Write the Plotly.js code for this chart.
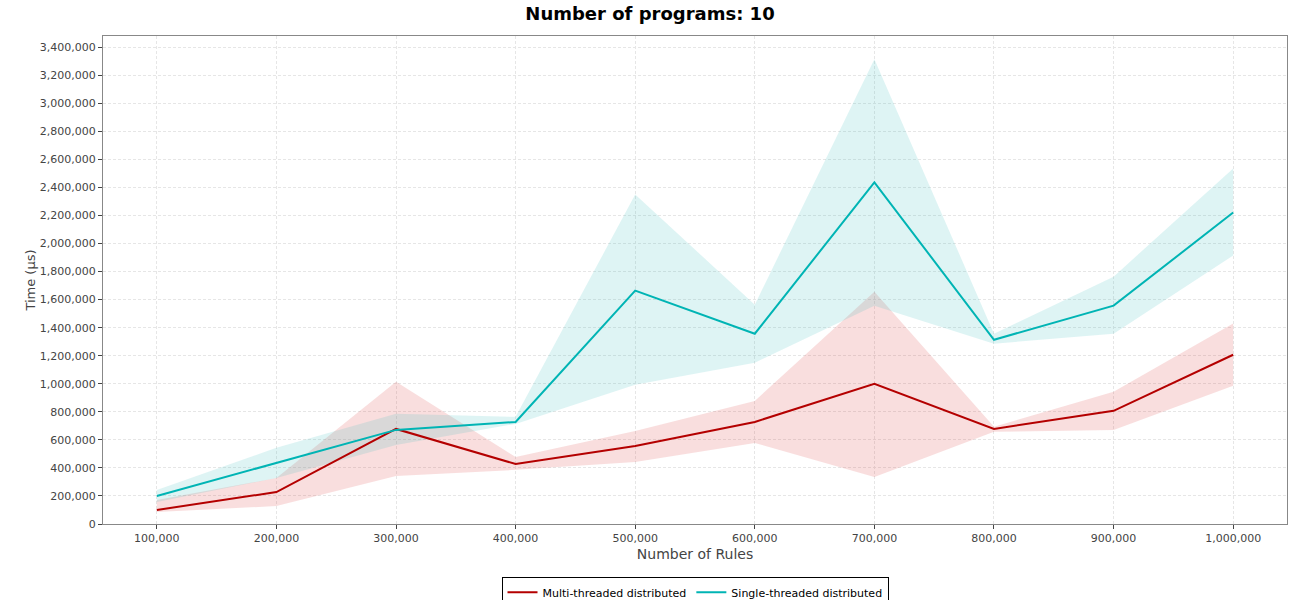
<!DOCTYPE html>
<html><head><meta charset="utf-8">
<script src="https://cdn.plot.ly/plotly-3.0.1.min.js"></script>
<style>body{margin:0;background:#fff}</style></head>
<body><div id="c" style="width:1300px;height:600px"></div>
<script>
const rules=[100000,200000,300000,400000,500000,600000,700000,800000,900000,1000000];
const multiMean=[100000,228000,678000,428000,557000,728000,1000000,678000,807000,1207000];
const multiUp=[171000,328000,1014000,478000,664000,878000,1657000,693000,943000,1429000];
const multiLo=[86000,128000,343000,386000,443000,578000,336000,657000,671000,986000];
const singleMean=[200000,436000,671000,728000,1664000,1357000,2436000,1314000,1557000,2221000];
const singleUp=[243000,543000,786000,764000,2350000,1564000,3314000,1357000,1764000,2536000];
const singleLo=[157000,328000,564000,714000,993000,1150000,1557000,1286000,1357000,1914000];
function band(up,lo,col){return {x:rules.concat(rules.slice().reverse()),y:up.concat(lo.slice().reverse()),fill:'toself',fillcolor:col,line:{width:0},mode:'lines',hoverinfo:'skip',showlegend:false};}
const data=[
 band(multiUp,multiLo,'rgba(220,60,60,0.17)'),
 band(singleUp,singleLo,'rgba(60,190,190,0.17)'),
 {x:rules,y:multiMean,mode:'lines',name:'Multi-threaded distributed',line:{color:'#b40000',width:2}},
 {x:rules,y:singleMean,mode:'lines',name:'Single-threaded distributed',line:{color:'#00b4b4',width:2}}
];
const layout={
 width:1300,height:600,margin:{l:103,r:13,t:36,b:76,autoexpand:false},
 font:{family:'DejaVu Sans',size:11,color:'#444'},
 title:{text:'<b>Number of programs: 10</b>',x:0.5,y:0.978,yanchor:'middle',font:{size:18,color:'#000'}},
 xaxis:{title:{text:'Number of Rules',font:{size:14},standoff:4},range:[55000,1045000],tickvals:rules,tickformat:',d',
  showgrid:true,gridcolor:'#e6e6e6',griddash:'3px,2px',showline:true,linecolor:'#888',mirror:true,ticks:'outside',ticklen:4,zeroline:false},
 yaxis:{title:{text:'Time (µs)',font:{size:13}},range:[0,3480000],dtick:200000,tickformat:',d',
  showgrid:true,gridcolor:'#e6e6e6',griddash:'3px,2px',showline:true,linecolor:'#888',mirror:true,ticks:'outside',ticklen:4,zeroline:false},
 legend:{orientation:'h',x:0.5,xanchor:'center',y:-0.108,yanchor:'top',bordercolor:'#000',borderwidth:1,font:{size:11,color:'#000'},tracegroupgap:0,itemwidth:30},
 plot_bgcolor:'#fff',paper_bgcolor:'#fff'
};
Plotly.newPlot('c',data,layout,{displayModeBar:false});
</script></body></html>
